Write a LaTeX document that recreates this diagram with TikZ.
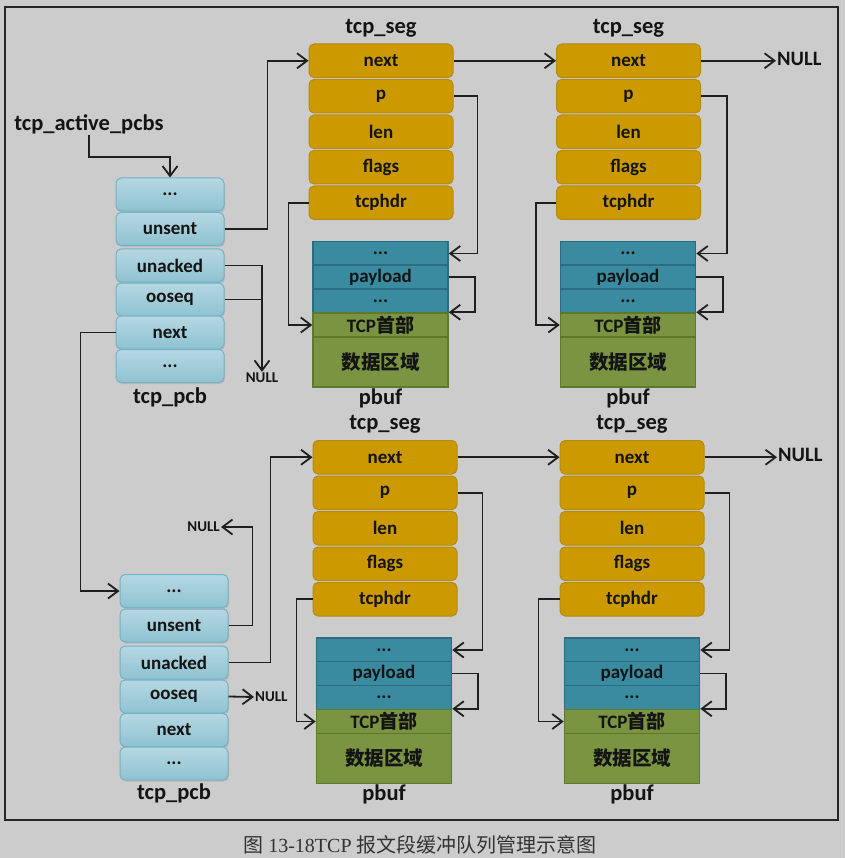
\documentclass[tikz,border=0pt]{standalone}
\usepackage{fontspec}
\setmainfont{Carlito}
\newfontfamily\cjk{Noto Sans CJK SC}
\newfontfamily\capserif{Liberation Serif}
\usetikzlibrary{arrows.meta,shadows}
\definecolor{bg}{HTML}{CCCCCC}
\definecolor{pcbtop}{HTML}{B6D8E2}
\definecolor{pcbbot}{HTML}{8EC2D1}
\definecolor{pcbline}{HTML}{74B2C6}
\definecolor{gold}{HTML}{CC9A00}
\definecolor{goldline}{HTML}{B58A10}
\definecolor{teal}{HTML}{3A8AA0}
\definecolor{tealline}{HTML}{2C6C80}
\definecolor{grn}{HTML}{7A9442}
\definecolor{grnline}{HTML}{5C7A2C}
\definecolor{txt}{HTML}{141414}
\begin{document}
\begin{tikzpicture}[x=1pt,y=-1pt,
  boxfont/.style={font=\fontsize{19}{19}\selectfont\bfseries, text=txt},
  pcbbox/.style={boxfont, draw=pcbline, line width=1pt, rounded corners=5pt,
    top color=pcbtop, bottom color=pcbbot, minimum width=108pt, minimum height=33pt,
    inner sep=0pt, drop shadow={shadow xshift=1pt, shadow yshift=-1.5pt, opacity=0.25}},
  segbox/.style={boxfont, draw=goldline, line width=1pt, rounded corners=5pt,
    fill=gold, minimum width=144pt, minimum height=33.5pt, inner sep=0pt},
  tealbox/.style={boxfont, draw=tealline, line width=1.5pt, fill=teal,
    minimum width=135pt, minimum height=24pt, inner sep=0pt},
  grnbox/.style={boxfont, draw=grnline, line width=1.5pt, fill=grn,
    minimum width=135pt, inner sep=0pt},
  lbl/.style={font=\fontsize{22.5}{22.5}\selectfont\bfseries, text=txt, inner sep=1pt},
  nullbig/.style={font=\fontsize{20.5}{20.5}\selectfont\bfseries, text=txt, inner sep=1pt},
  nullsmall/.style={font=\fontsize{15}{15}\selectfont\bfseries, text=txt, inner sep=1pt},
  arr/.style={draw=black!88, line width=1.8pt, -{Straight Barb[length=10pt,width=15pt]}},
  ln/.style={draw=black!88, line width=1.8pt}
]
\useasboundingbox (0,0) rectangle (845,858);
\fill[bg] (0,0) rectangle (845,858);
\draw[black!85, line width=1.6pt] (5,7) rectangle (838,820);

% ---------- top tcp_pcb ----------
\node[lbl] (tap) at (89,124) {tcp\_active\_pcbs};
\node[pcbbox] (A1) at (170,194.5) {...};
\node[pcbbox] (A2) at (170,229) {unsent};
\node[pcbbox] (A3) at (170,265.5) {unacked};
\node[pcbbox] (A4) at (170,299.5) {ooseq};
\node[pcbbox] (A5) at (170,332.5) {next};
\node[pcbbox] (A6) at (170,366) {...};
\node[lbl] (Alab) at (170,397) {tcp\_pcb};
\node[nullsmall] (nA) at (262,378) {NULL};

% ---------- bottom tcp_pcb ----------
\node[pcbbox] (B1) at (174,591) {...};
\node[pcbbox] (B2) at (174,625.5) {unsent};
\node[pcbbox] (B3) at (174,662.5) {unacked};
\node[pcbbox] (B4) at (174,696.5) {ooseq};
\node[pcbbox] (B5) at (174,730) {next};
\node[pcbbox] (B6) at (174,763.5) {...};
\node[lbl] (Blab) at (174,793) {tcp\_pcb};
\node[nullsmall, anchor=east] (nB1) at (221,527) {NULL};
\node[nullsmall, anchor=west] (nB2) at (254,697) {NULL};

% ---------- tcp_seg columns ----------
\foreach \n/\cx/\y in {S1/381/0, S2/628.5/0, S3/385/396.5, S4/632/396.5}{
  \node[lbl] (\n lab) at (\cx,28+\y) {tcp\_seg};
  \node[segbox] (\n n) at (\cx,60.75+\y) {next};
  \node[segbox] (\n p) at (\cx,96.25+\y) {p};
  \node[segbox] (\n l) at (\cx,131.75+\y) {len};
  \node[segbox] (\n f) at (\cx,167.25+\y) {flags};
  \node[segbox] (\n h) at (\cx,202.75+\y) {tcphdr};
}
% ---------- pbuf columns ----------
\foreach \n/\cx/\y in {P1/380.5/0, P2/628/0, P3/384/396.5, P4/632/396.5}{
  \node[tealbox] (\n a) at (\cx,253.5+\y) {...};
  \node[tealbox] (\n b) at (\cx,277+\y) {payload};
  \node[tealbox] (\n c) at (\cx,301+\y) {...};
  \node[grnbox, minimum height=24pt] (\n d) at (\cx,325+\y) {TCP{\cjk\bfseries 首部}};
  \node[grnbox, minimum height=50pt] (\n e) at (\cx,362+\y) {{\fontsize{19.5}{19.5}\selectfont\cjk\bfseries 数据区域}};
  \node[lbl] (\n lab) at (\cx,398+\y) {pbuf};
}
\node[nullbig, anchor=west] (nS2) at (776,59) {NULL};
\node[nullbig, anchor=west] (nS4) at (777,455) {NULL};

% ---------- connectors: top pcb ----------
\draw[arr] (tap.south) -- (89,157) -| (A1.north);
\draw[arr] (A2.east) -- ++(43,0) |- (S1n.west);
\draw[arr] (A3.east) -| (nA.north);
\draw[ln] (A4.east) -- (A4.east -| nA.north);
\draw[arr] (A5.west) -- ++(-35,0) |- (B1.west);

% ---------- connectors: bottom pcb ----------
\draw[arr] (B2.east) -- ++(24,0) |- (nB1.east);
\draw[arr] (B3.east) -- ++(42,0) |- (S3n.west);
\draw[arr] (B4.east) -- (nB2.west);

% ---------- connectors: segments ----------
\draw[arr] (S1n.east) -- (S2n.west);
\draw[arr] (S2n.east) -- (S2n.east -| nS2.west);
\draw[arr] (S3n.east) -- (S4n.west);
\draw[arr] (S4n.east) -- (S4n.east -| nS4.west);

\draw[arr] (S1p.east) -- ++(24,0) |- (P1a.east);
\draw[arr] (P1b.east) -- ++(26,0) |- (P1d.north east);
\draw[arr] (S1h.west) -- ++(-20,0) |- (P1d.west);

\draw[arr] (S2p.east) -- ++(26,0) |- (P2a.east);
\draw[arr] (P2b.east) -- ++(27,0) |- (P2d.north east);
\draw[arr] (S2h.west) -- ++(-20,0) |- (P2d.west);

\draw[arr] (S3p.east) -- ++(25,0) |- (P3a.east);
\draw[arr] (P3b.east) -- ++(26,0) |- (P3d.north east);
\draw[arr] (S3h.west) -- ++(-16,0) |- (P3d.west);

\draw[arr] (S4p.east) -- ++(25,0) |- (P4a.east);
\draw[arr] (P4b.east) -- ++(26,0) |- (P4d.north east);
\draw[arr] (S4h.west) -- ++(-21,0) |- (P4d.west);

% ---------- caption ----------
\node[font=\fontsize{20}{20}\selectfont, text=black!80] (cap) at (420,845)
  {{\cjk 图} {\capserif 13-18TCP} {\cjk 报文段缓冲队列管理示意图}};
\end{tikzpicture}
\end{document}
